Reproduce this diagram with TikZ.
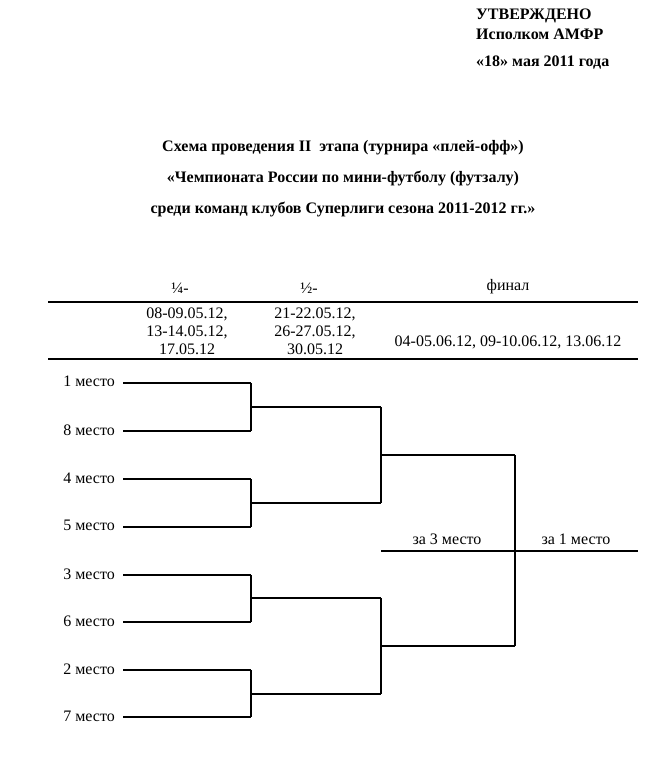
\documentclass[tikz,border=0pt]{standalone}
\usepackage{fontspec}
\setmainfont{Liberation Serif}
\begin{document}
\begin{tikzpicture}[x=1pt,y=-1pt,
  txt/.style={inner sep=0pt,anchor=base,font=\fontsize{16}{18}\selectfont},
  hdr/.style={txt,anchor=base west,font=\fontsize{16}{18}\selectfont\bfseries},
  ttl/.style={txt,font=\fontsize{16}{18}\selectfont\bfseries},
  place/.style={txt,anchor=base east},
  ln/.style={line width=1.2pt}]
\useasboundingbox (0,0) rectangle (659,765);
% header
\node[hdr] (h1) at (476,20) {УТВЕРЖДЕНО};
\node[hdr] (h2) at (476,40) {Исполком АМФР};
\node[hdr] (h3) at (476,67) {«18» мая 2011 года};
% title
\node[ttl] (t1) at (343,151) {Схема проведения II\ \ этапа (турнира «плей-офф»)};
\node[ttl] (t2) at (343,182) {«Чемпионата России по мини-футболу (футзалу)};
\node[ttl] (t3) at (343,213) {среди команд клубов Суперлиги сезона 2011-2012 гг.»};
% table
\coordinate (tl) at (48,302);
\coordinate (tr) at (638,302);
\coordinate (bl) at (48,359);
\coordinate (br) at (638,359);
\draw[ln] (tl) -- (tr);
\draw[ln] (bl) -- (br);
\node[txt] (c1) at (180,293) {¼-};
\node[txt] (c2) at (309,293) {½-};
\node[txt] (c3) at (508,290) {финал};
\node[txt] (d11) at (187,318) {08-09.05.12,};
\node[txt] (d12) at (187,336) {13-14.05.12,};
\node[txt] (d13) at (187,354) {17.05.12};
\node[txt] (d21) at (315,318) {21-22.05.12,};
\node[txt] (d22) at (315,336) {26-27.05.12,};
\node[txt] (d23) at (315,354) {30.05.12};
\node[txt] (d3) at (508,346) {04-05.06.12, 09-10.06.12, 13.06.12};
% places
\node[place] (p1) at (115,386) {1 место};
\node[place] (p8) at (115,435) {8 место};
\node[place] (p4) at (115,483) {4 место};
\node[place] (p5) at (115,530) {5 место};
\node[place] (p3) at (115,579) {3 место};
\node[place] (p6) at (115,626) {6 место};
\node[place] (p2) at (115,674) {2 место};
\node[place] (p7) at (115,721) {7 место};
% bracket coordinates
\foreach \n/\y in {1/383,8/431,4/479,5/527,3/575,6/622,2/670,7/717}{
  \coordinate (s\n) at (123,\y);
  \coordinate (e\n) at (251,\y);
}
\coordinate (q18) at (251,407);
\coordinate (q45) at (251,503);
\coordinate (q36) at (251,598);
\coordinate (q27) at (251,694);
\coordinate (r18) at (381,407);
\coordinate (r45) at (381,503);
\coordinate (r36) at (381,598);
\coordinate (r27) at (381,694);
\coordinate (sa) at (381,455);
\coordinate (sb) at (381,646);
\coordinate (fa) at (515,455);
\coordinate (fb) at (515,646);
\coordinate (m1) at (381,551);
\coordinate (m2) at (638,551);
\foreach \n in {1,8,4,5,3,6,2,7}{\draw[ln] (s\n) -- (e\n);}
\draw[ln] (e1) -- (e8);
\draw[ln] (e4) -- (e5);
\draw[ln] (e3) -- (e6);
\draw[ln] (e2) -- (e7);
\draw[ln] (q18) -- (r18);
\draw[ln] (q45) -- (r45);
\draw[ln] (q36) -- (r36);
\draw[ln] (q27) -- (r27);
\draw[ln] (r18) -- (r45);
\draw[ln] (r36) -- (r27);
\draw[ln] (sa) -- (fa);
\draw[ln] (sb) -- (fb);
\draw[ln] (fa) -- (fb);
\draw[ln] (m1) -- (m2);
\node[txt] (z3) at (447,544) {за 3 место};
\node[txt] (z1) at (576,544) {за 1 место};
\end{tikzpicture}
\end{document}
